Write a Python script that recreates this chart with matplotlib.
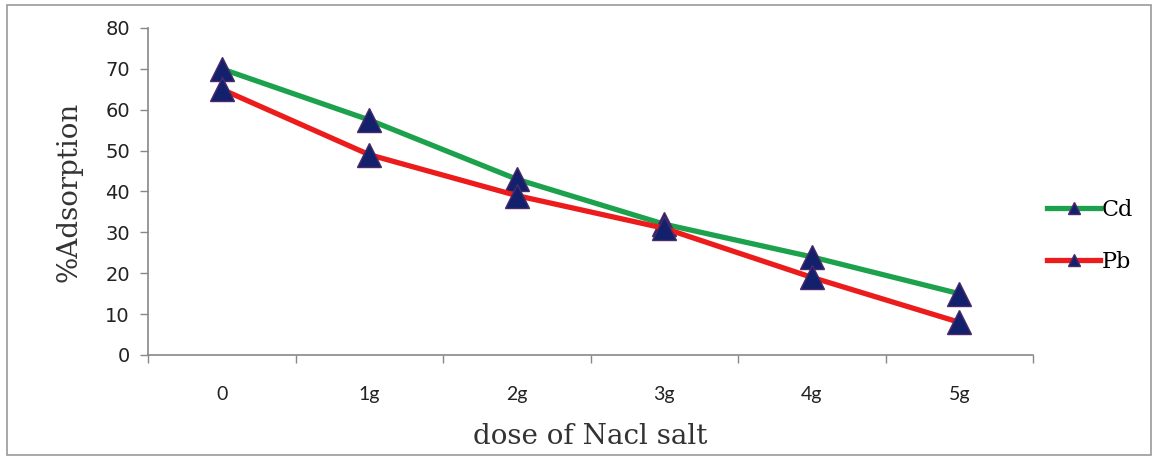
import matplotlib
matplotlib.use("Agg")
import matplotlib.pyplot as plt
from matplotlib.patches import Rectangle

doses = ["0", "1g", "2g", "3g", "4g", "5g"]
cd_adsorption = [70, 57.5, 43, 32, 24, 15]
pb_adsorption = [65, 49, 39, 31, 19, 8]
y_ticks = [0, 10, 20, 30, 40, 50, 60, 70, 80]

fig = plt.figure(figsize=(11.59, 4.58), dpi=100)
ax = fig.add_axes([0.1277, 0.2249, 0.7636, 0.714])

x = list(range(len(doses)))
marker_style = dict(marker="^", markersize=17, markerfacecolor="#13206b",
                    markeredgecolor="#4a2a6a", markeredgewidth=1)
ax.plot(x, cd_adsorption, color="#1ca24c", lw=3.8, label="Cd", **marker_style)
ax.plot(x, pb_adsorption, color="#ec1c1c", lw=3.8, label="Pb", **marker_style)

ax.set_xlim(-0.5, len(doses) - 0.5)
ax.set_ylim(0, 80)
ax.set_yticks(y_ticks)
ax.tick_params(axis="y", labelsize=14, length=6, width=1, color="#888888",
               labelcolor="#222222", pad=7)

# category labels centred, tick marks between categories
ax.set_xticks([i + 0.5 for i in range(-1, len(doses))])
ax.set_xticklabels([])
ax.set_xticks(x, minor=True)
ax.set_xticklabels(doses, minor=True, fontsize=14, family="Lato", color="#222222")
ax.tick_params(axis="x", which="major", length=6, width=1, color="#888888")
ax.tick_params(axis="x", which="minor", length=0, pad=22)

for side in ("top", "right"):
    ax.spines[side].set_visible(False)
for side in ("left", "bottom"):
    ax.spines[side].set_color("#888888")
    ax.spines[side].set_linewidth(1.2)

ax.set_ylabel("%Adsorption", family="DejaVu Serif", fontsize=20, color="#333333", labelpad=16)
ax.set_xlabel("dose of Nacl salt", family="DejaVu Serif", fontsize=20, color="#333333", labelpad=15)

leg = fig.legend(loc="upper left", bbox_to_anchor=(0.886, 0.61), frameon=False,
                 prop={"family": "DejaVu Serif", "size": 16}, handlelength=2.4,
                 handletextpad=0.05, labelspacing=1.35, markerscale=0.55)

fig.patches.append(Rectangle((0.006, 0.006), 0.987, 0.983, transform=fig.transFigure,
                             fill=False, edgecolor="#999999", lw=1.2))

fig.savefig("out.png", dpi=100)
